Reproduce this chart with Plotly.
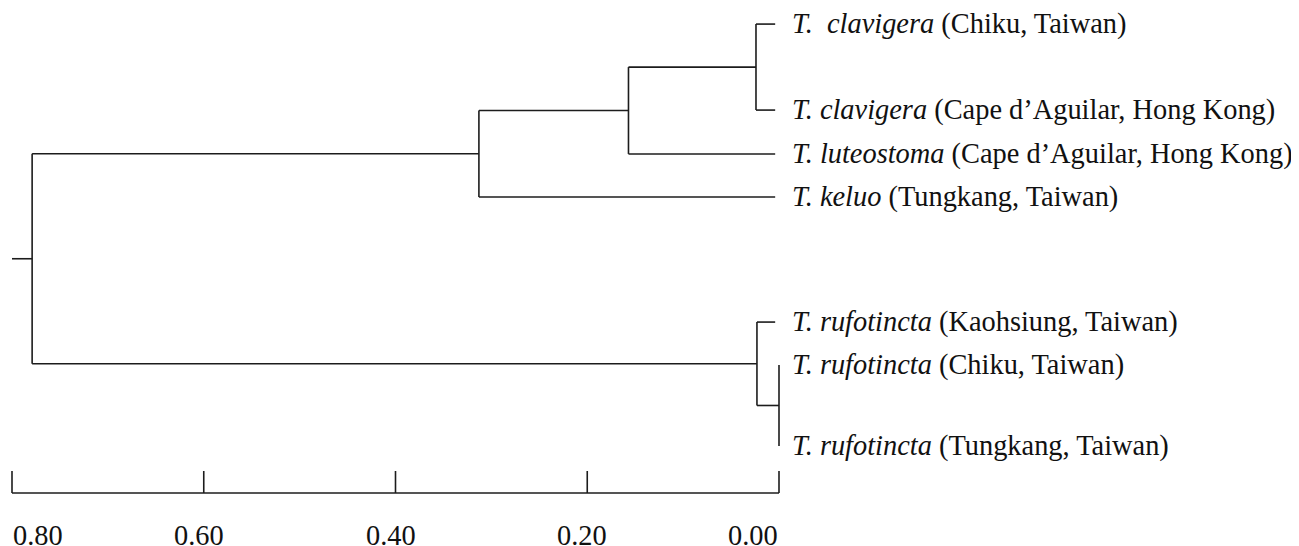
import plotly.graph_objects as go

# ---------------- data ----------------
tick_values = [0.80, 0.60, 0.40, 0.20, 0.00]
tick_labels = ["0.80", "0.60", "0.40", "0.20", "0.00"]

species = ["T.\u00a0 clavigera", "T. clavigera", "T. luteostoma", "T. keluo",
           "T. rufotincta", "T. rufotincta", "T. rufotincta"]
localities = ["(Chiku, Taiwan)", "(Cape d\u2019Aguilar, Hong Kong)",
              "(Cape d\u2019Aguilar, Hong Kong)", "(Tungkang, Taiwan)",
              "(Kaohsiung, Taiwan)", "(Chiku, Taiwan)", "(Tungkang, Taiwan)"]
# leaf vertical order (row units) and distance of each leaf tip
leaf_row = [0.56, 2.56, 3.58, 4.58, 7.49, 8.49, 10.37]
leaf_dist = [0.004, 0.004, 0.004, 0.004, 0.004, 0.0, 0.0]

# internal nodes: ids 7.. ; children refer to leaf ids 0-6 or node ids
node_children = [(0, 1), (7, 2), (8, 3), (5, 6), (4, 10), (9, 11)]
node_height = [0.024, 0.157, 0.313, 0.000, 0.023, 0.779]
root_edge = 0.80

# ---------------- layout constants ----------------
PAGE_W, PAGE_H = 1299, 546
OFF = 8                      # default page margin around the plot div
W, H = PAGE_W - OFF, PAGE_H - OFF
ROW_PX = 43.0
ZERO_PX = 779.0
PX_PER_UNIT = (779.0 - 12.0) / 0.80
x_range = [(ZERO_PX - OFF) / PX_PER_UNIT, (ZERO_PX - PAGE_W) / PX_PER_UNIT]
y_range = [PAGE_H / ROW_PX, OFF / ROW_PX]
bar_row = 493 / ROW_PX
tick_top_row = 471 / ROW_PX
label_row = 535 / ROW_PX

LINE = dict(color="#1c1c1c", width=1.6)
FONT = dict(family="Liberation Serif, Times New Roman, serif", size=28.4, color="#111111")

# ---------------- tree geometry ----------------
n_leaf = len(leaf_row)
pos_x = list(leaf_dist)
pos_y = list(leaf_row)
xs, ys = [], []
for k, (a, b) in enumerate(node_children):
    h = node_height[k]
    ya, yb = pos_y[a], pos_y[b]
    xs += [h, h, None]
    ys += [min(ya, yb), max(ya, yb), None]
    for c in (a, b):
        if pos_x[c] != h:
            xs += [h, pos_x[c], None]
            ys += [pos_y[c], pos_y[c], None]
    pos_x.append(h)
    pos_y.append((ya + yb) / 2)
xs += [pos_x[-1], root_edge, None]
ys += [pos_y[-1], pos_y[-1], None]

fig = go.Figure()
fig.add_trace(go.Scatter(x=xs, y=ys, mode="lines", line=LINE,
                         hoverinfo="skip", showlegend=False))

# scale bar
sx = [tick_values[0], tick_values[-1], None]
sy = [bar_row, bar_row, None]
for t in tick_values:
    sx += [t, t, None]
    sy += [bar_row, tick_top_row, None]
fig.add_trace(go.Scatter(x=sx, y=sy, mode="lines", line=LINE,
                         hoverinfo="skip", showlegend=False))

annotations = []
for i in range(n_leaf):
    annotations.append(dict(
        x=0.0, y=leaf_row[i], xref="x", yref="y",
        text="<i>%s</i> %s" % (species[i], localities[i]),
        showarrow=False, xanchor="left", yanchor="middle", xshift=11,
        font=FONT))
for i, (t, lab) in enumerate(zip(tick_values, tick_labels)):
    anchor = "left" if i == 0 else ("right" if i == len(tick_values) - 1 else "center")
    shift = -5 if 0 < i < len(tick_values) - 1 else 0
    annotations.append(dict(
        x=t, y=label_row, xref="x", yref="y", text=lab, showarrow=False,
        xanchor=anchor, yanchor="middle", xshift=shift, borderpad=0, font=FONT))

fig.update_layout(
    width=W, height=H,
    margin=dict(l=0, r=0, t=0, b=0),
    paper_bgcolor="white", plot_bgcolor="white",
    xaxis=dict(range=x_range, visible=False, fixedrange=True),
    yaxis=dict(range=y_range, visible=False, fixedrange=True),
    annotations=annotations,
    showlegend=False,
)

fig.write_html("out.html")
